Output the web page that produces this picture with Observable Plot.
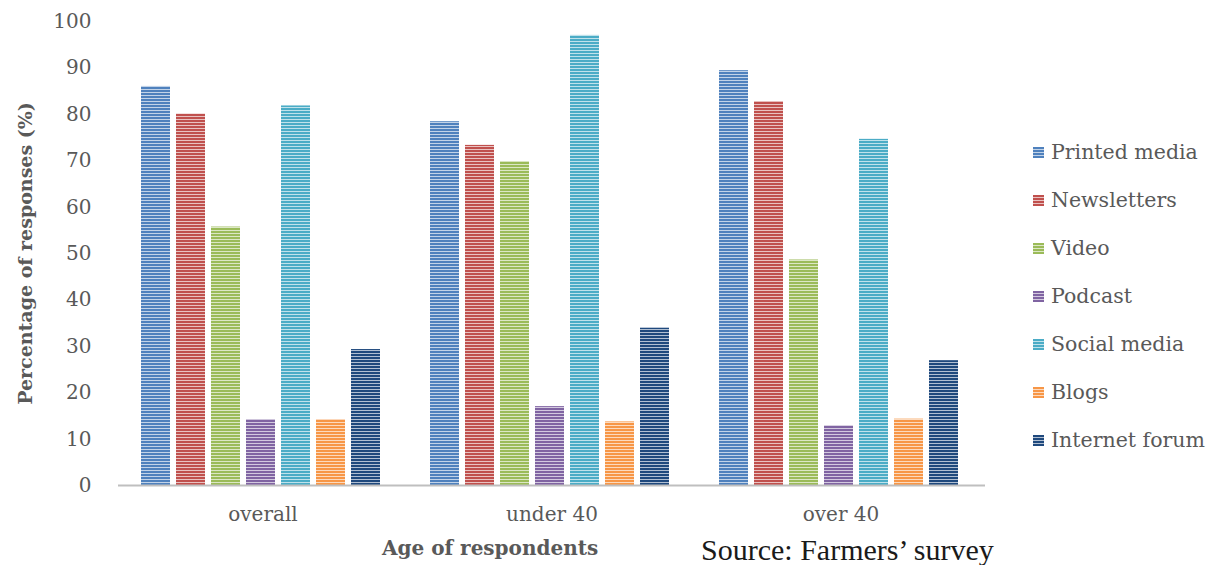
<!DOCTYPE html>
<html>
<head>
<meta charset="utf-8">
<script src="https://cdn.jsdelivr.net/npm/d3@7"></script>
<script src="https://cdn.jsdelivr.net/npm/@observablehq/plot@0.6"></script>
<style>
  body { margin: 0; background: #fff; }
  #wrap { position: relative; width: 1218px; height: 565px; overflow: hidden; font-family: "DejaVu Serif", serif; }
  #chart { position: absolute; left: 0; top: 0; }
  #chart g[aria-label="y-axis label"] text { font-weight: bold; font-size: 19px; }
  #legend { position: absolute; left: 1033px; top: 128px; }
  .item { display: flex; align-items: center; height: 48px; color: #595959; font-size: 20.5px; white-space: nowrap; }
  .item svg { margin-right: 7px; flex: none; }
  #xtitle { position: absolute; left: 382px; top: 538px; font-weight: bold; color: #595959; font-size: 20px; line-height: 1; white-space: nowrap; }
  #source { position: absolute; left: 701px; top: 535px; font-family: "Liberation Serif", serif; font-size: 30px; color: #1a1a1a; line-height: 1; white-space: nowrap; }
</style>
</head>
<body>
<svg width="0" height="0" style="position:absolute">
  <defs>
    <!-- thin white horizontal stripes laid over the bar colour -->
    <pattern id="stripes" width="6" height="3" patternUnits="userSpaceOnUse">
      <rect x="0" y="2" width="6" height="1" fill="#ffffff" fill-opacity="0.65"></rect>
    </pattern>
  </defs>
</svg>
<div id="wrap">
  <div id="chart"></div>
  <div id="legend"></div>
  <div id="xtitle">Age of respondents</div>
  <div id="source">Source: Farmers’ survey</div>
</div>
<script>
// Age groups and information sources
const groups = ["overall", "under 40", "over 40"];
const series = ["Printed media", "Newsletters", "Video", "Podcast", "Social media", "Blogs", "Internet forum"];
const colors = ["#4f81bd", "#c0504d", "#9bbb59", "#8064a2", "#4bacc6", "#f79646", "#1f497d"];

// Percentage of responses per source, one array per age group
const overall = [86, 80, 55.7, 14.2, 81.8, 14.2, 29.3];
const under40 = [78.4, 73.3, 69.8, 17.0, 97.0, 13.7, 33.9];
const over40  = [89.4, 82.7, 48.6, 12.8, 74.6, 14.3, 26.9];

const yTicks = [0, 10, 20, 30, 40, 50, 60, 70, 80, 90, 100];

const valuesByGroup = [overall, under40, over40];
const rows = groups.flatMap((g, gi) =>
  series.map((s, si) => ({group: g, series: s, value: valuesByGroup[gi][si]}))
);

const chart = Plot.plot({
  width: 1000,
  height: 565,
  marginLeft: 117,
  marginRight: 15,
  marginTop: 21,
  marginBottom: 80,
  style: {fontFamily: "DejaVu Serif, serif", fontSize: "20px", color: "#595959", background: "transparent"},
  fx: {domain: groups, padding: 0, axis: "bottom", tickSize: 0, tickPadding: 21, label: null},
  x: {domain: series, paddingInner: 0.165, paddingOuter: 0.68, align: 0.46, axis: null},
  y: {domain: [0, 100], ticks: yTicks, tickSize: 0, tickPadding: 27,
      label: "Percentage of responses (%)", labelAnchor: "center", labelOffset: 100, labelArrow: "none"},
  color: {domain: series, range: colors},
  marks: [
    Plot.barY(rows, {fx: "group", x: "series", y: "value", fill: "series"}),
    Plot.barY(rows, {fx: "group", x: "series", y: "value", fill: "url(#stripes)"}),
    Plot.ruleY([0], {stroke: "#bfbfbf", strokeWidth: 2})
  ]
});
document.getElementById("chart").append(chart);

// Vertical legend with striped swatches
const legend = d3.select("#legend");
series.forEach((s, i) => {
  const item = legend.append("div").attr("class", "item");
  const sw = item.append("svg").attr("width", 11).attr("height", 11);
  sw.append("rect").attr("width", 11).attr("height", 11).attr("fill", colors[i]);
  sw.append("rect").attr("width", 11).attr("height", 11).attr("fill", "url(#stripes)");
  item.append("span").text(s);
});
</script>
</body>
</html>
